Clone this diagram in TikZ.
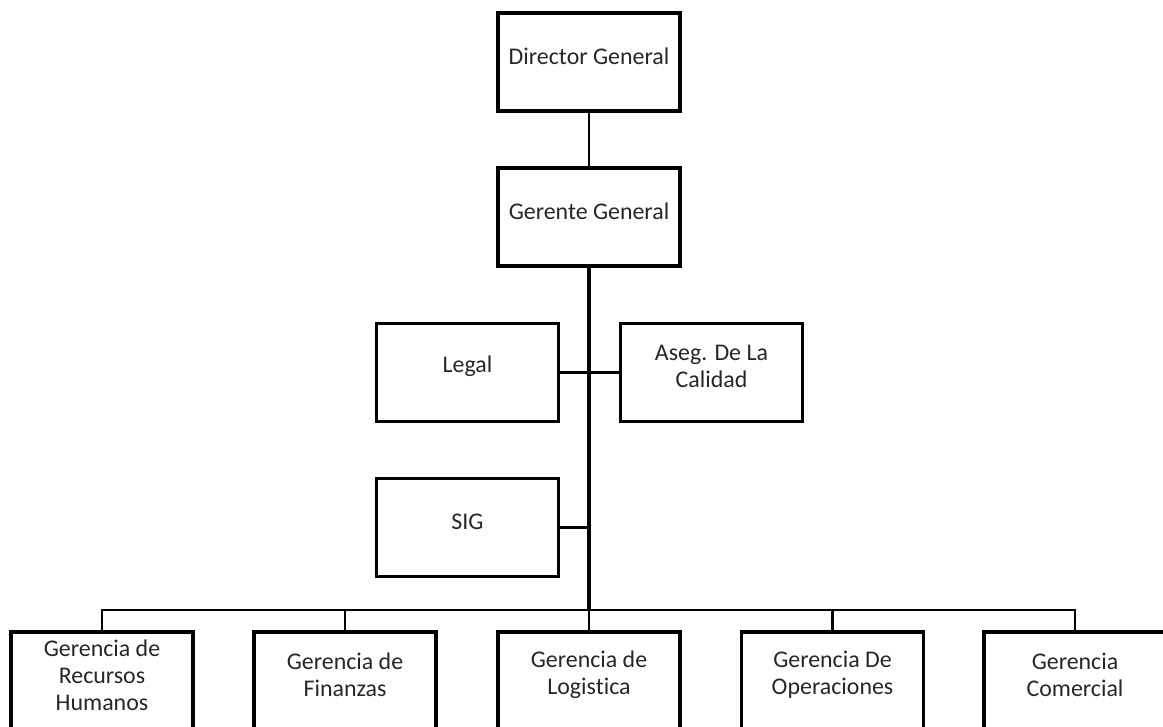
\documentclass[tikz,border=0pt]{standalone}
\usepackage{fontspec}
\setmainfont{Carlito}[Ligatures=NoCommon]
\usetikzlibrary{positioning}

\tikzset{
  box/.style={draw, line width=2.4pt, minimum width=4.55cm, minimum height=2.45cm, inner sep=0pt},
  txt/.style={align=center, yshift=0.15cm, text=black!85, font=\fontsize{17pt}{19.2pt}\selectfont},
  conn/.style={line width=1.9pt},
  trunk/.style={line width=2.7pt}
}

\begin{document}
\begin{tikzpicture}[x=0.025cm, y=-0.025cm]
\useasboundingbox (0,0) rectangle (1163,726);
\clip (0,0) rectangle (1163,726);
% Direccion
\node[box, label={[txt]center:Director General}] (dir) at (589,62) {};
\node[box, label={[txt]center:Gerente General}] (ger) at (589,217) {};
% Staff
\node[box, label={[txt]center:Legal}] (legal) at (467.5,372.5) {};
\node[box, label={[txt]center:Aseg. De La\\Calidad}] (aseg) at (711.5,372.5) {};
\node[box, label={[txt]center:SIG}] (sig) at (467.5,527.5) {};
% Gerencias
\node[box, label={[txt]center:Gerencia de\\Recursos\\Humanos}] (rh) at (102,681) {};
\node[box, label={[txt]center:Gerencia de\\Finanzas}] (fin) at (345,681) {};
\node[box, label={[txt]center:Gerencia de\\Logistica}] (log) at (589,681) {};
\node[box, label={[txt]center:Gerencia De\\Operaciones}] (ope) at (832.5,681) {};
\node[box, label={[txt]center:Gerencia\\Comercial}] (com) at (1075,681) {};
\coordinate (bus) at (589,610);
% Lineas
\draw[conn] (dir) -- (ger);
\draw[trunk] (ger.south) -- (bus);
\draw[conn] (legal.east) -- (aseg.west);
\draw[conn] (sig.east) -- (sig.east -| bus);
\draw[conn] (rh.north) |- (bus) -| (com.north);
\foreach \g in {fin,log,ope} \draw[conn] (\g.north) -- (\g.north |- bus);
\end{tikzpicture}
\end{document}
